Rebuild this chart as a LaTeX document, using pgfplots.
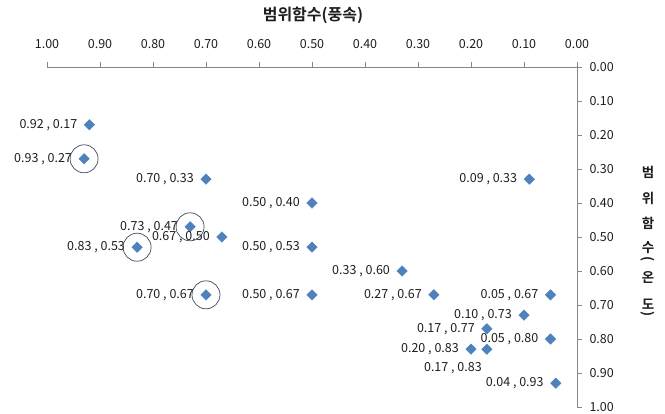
\documentclass[border=0pt]{standalone}
\usepackage{fontspec}
\setmainfont{Noto Sans CJK KR}[BoldFont={Noto Sans CJK KR Bold}]
\usepackage{pgfplots}
\pgfplotsset{compat=1.18}
\definecolor{mk}{RGB}{79,129,189}
\definecolor{ax}{RGB}{134,134,134}
\definecolor{tx}{RGB}{30,30,30}
\definecolor{cr}{RGB}{60,75,95}
\newcommand{\lblfont}{\fontsize{12.5}{14}\selectfont}
\begin{document}
\begin{tikzpicture}
\useasboundingbox (0,0) rectangle (665pt,413pt);
\begin{axis}[
  at={(312pt,176pt)}, anchor=center,
  scale only axis, width=530pt, height=340pt,
  xmin=0, xmax=1, ymin=0, ymax=1,
  x dir=reverse, y dir=reverse,
  axis x line*=top, axis y line*=right,
  axis line style={ax, line width=0.8pt, -},
  tick align=outside, major tick length=5pt,
  tick style={ax, line width=0.8pt},
  xtick={0,0.1,0.2,0.3,0.4,0.5,0.6,0.7,0.8,0.9,1},
  ytick={0,0.1,0.2,0.3,0.4,0.5,0.6,0.7,0.8,0.9,1},
  /pgf/number format/.cd, fixed, fixed zerofill, precision=2, assume math mode=true,
  /pgfplots/.cd,
  tick label style={font=\lblfont, text=tx},
  xticklabel style={yshift=10pt},
  yticklabel style={xshift=4pt},
  clip=false,
]
\addplot[only marks, mark=square*, mark size=3.7pt, mark options={mk, draw=mk, rotate=45},
  nodes near coords, point meta=explicit symbolic,
  nodes near coords style={anchor=east, inner sep=0pt, xshift=-12pt, font=\lblfont, text=tx}]
coordinates {
(0.92,0.17) [0.92 , 0.17]
(0.93,0.27) [0.93 , 0.27]
(0.70,0.33) [0.70 , 0.33]
(0.50,0.40) [0.50 , 0.40]
(0.73,0.47) [0.73 , 0.47]
(0.67,0.50) [0.67 , 0.50]
(0.83,0.53) [0.83 , 0.53]
(0.50,0.53) [0.50 , 0.53]
(0.70,0.67) [0.70 , 0.67]
(0.50,0.67) [0.50 , 0.67]
(0.09,0.33) [0.09 , 0.33]
(0.33,0.60) [0.33 , 0.60]
(0.27,0.67) [0.27 , 0.67]
(0.05,0.67) [0.05 , 0.67]
(0.10,0.73) [0.10 , 0.73]
(0.17,0.77) [0.17 , 0.77]
(0.05,0.80) [0.05 , 0.80]
(0.20,0.83) [0.20 , 0.83]
(0.04,0.93) [0.04 , 0.93]
};
\addplot[only marks, mark=square*, mark size=3.7pt, mark options={mk, draw=mk, rotate=45},
  nodes near coords, point meta=explicit symbolic,
  nodes near coords style={anchor=center, inner sep=0pt, xshift=-34pt, yshift=-19pt, font=\lblfont, text=tx}]
coordinates {
(0.17,0.83) [0.17 , 0.83]
};
\addplot[only marks, mark=o, mark size=14pt, mark options={draw=cr, line width=0.7pt}]
coordinates {(0.93,0.27) (0.73,0.47) (0.83,0.53) (0.70,0.67)};
\end{axis}
\node[font=\bfseries\fontsize{16}{18}\selectfont, text=tx] at (313pt,398pt) {범위함수(풍속)};
\begin{scope}[every node/.style={font=\bfseries\fontsize{13.5}{15}\selectfont, text=tx, inner sep=0pt}]
\node at (648pt,241pt) {범};
\node at (648pt,215pt) {위};
\node at (648pt,190pt) {함};
\node at (648pt,165pt) {수};
\node[rotate=-90] at (648pt,154pt) {(};
\node at (648pt,136pt) {온};
\node at (648pt,109pt) {도};
\node[rotate=-90] at (648pt,99pt) {)};
\end{scope}
\end{tikzpicture}
\end{document}
